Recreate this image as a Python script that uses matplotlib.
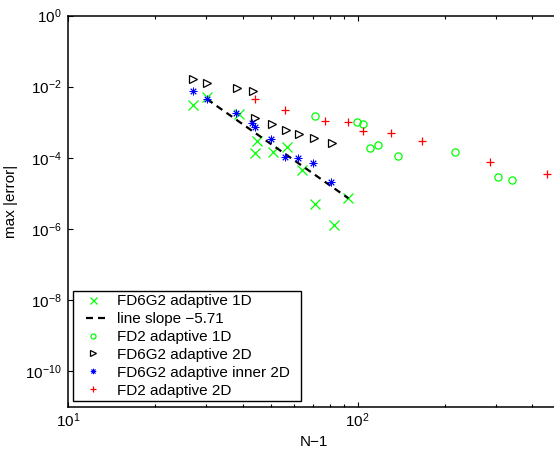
import matplotlib
matplotlib.use('Agg')
import matplotlib.pyplot as plt
from matplotlib.lines import Line2D
from matplotlib.ticker import LogLocator, NullLocator, FixedLocator

plt.rcParams['font.family'] = ['Liberation Sans', 'DejaVu Sans']
plt.rcParams['mathtext.fontset'] = 'custom'
plt.rcParams['mathtext.rm'] = 'Liberation Sans'
plt.rcParams['mathtext.it'] = 'Liberation Sans'
plt.rcParams['mathtext.default'] = 'regular'
plt.rcParams['lines.scale_dashes'] = False

# ---- data ----
fd6g2_1d_n = [27.0, 30.1, 38.8, 44.0, 44.7, 51.0, 57.1, 64.1, 71.3, 83.1, 92.9]
fd6g2_1d_err = [2.96e-3, 5.04e-3, 1.71e-3, 1.33e-4, 2.98e-4, 1.49e-4, 1.99e-4,
                4.57e-5, 4.97e-6, 1.30e-6, 7.33e-6]

line_n = [30.1, 92.9]
line_err = [4.5e-3, 7.3e-6]

fd2_1d_n = [71.3, 99.2, 104.0, 110.2, 117.2, 138.1, 216.4, 304.3, 340.2]
fd2_1d_err = [1.50e-3, 1.04e-3, 8.96e-4, 1.84e-4, 2.30e-4, 1.15e-4, 1.49e-4,
              2.87e-5, 2.44e-5]

fd6g2_2d_n = [26.9, 30.1, 38.2, 43.4, 44.2, 50.4, 56.3, 62.5, 70.4, 81.8]
fd6g2_2d_err = [1.64e-2, 1.27e-2, 9.2e-3, 7.57e-3, 1.32e-3, 9.14e-4, 6.08e-4,
                4.69e-4, 3.62e-4, 2.62e-4]

inner_2d_n = [27.0, 30.1, 37.9, 43.2, 44.0, 50.0, 55.9, 62.1, 70.0, 81.0]
inner_2d_err = [7.33e-3, 4.45e-3, 1.79e-3, 9.25e-4, 7.38e-4, 3.29e-4, 1.04e-4,
                9.93e-5, 7.05e-5, 2.14e-5]

fd2_2d_n = [44.0, 55.9, 77.2, 92.9, 104.0, 129.9, 166.8, 286.8, 452.0]
fd2_2d_err = [4.51e-3, 2.22e-3, 1.10e-3, 1.0e-3, 5.80e-4, 4.91e-4, 2.92e-4,
              7.77e-5, 3.48e-5]

labels = ['FD6G2 adaptive 1D', 'line slope \u22125.71', 'FD2 adaptive 1D',
          'FD6G2 adaptive 2D', 'FD6G2 adaptive inner 2D  ', 'FD2 adaptive 2D']
y_ticks = [1e0, 1e-2, 1e-4, 1e-6, 1e-8, 1e-10]

PX = 0.72  # points per pixel at dpi 100

# ---- figure ----
W, H = 554, 449
fig = plt.figure(figsize=(W / 100, H / 100), dpi=100)
ax_left, ax_right, ax_top, ax_bottom = 68.3, 560.0, 15.5, 407.0
ax = fig.add_axes([ax_left / W, 1 - ax_bottom / H,
                   (ax_right - ax_left) / W, (ax_bottom - ax_top) / H])

h0, = ax.plot(fd6g2_1d_n, fd6g2_1d_err, linestyle='none', marker='x', color='#00ff00',
              ms=7.2, mew=0.9)
ax.plot(line_n, line_err, color='black', lw=1.6,
        linestyle=(0, (7 * PX, 5 * PX)))
h2, = ax.plot(fd2_1d_n, fd2_1d_err, linestyle='none', marker='o', color='#00ff00',
              mfc='none', ms=5.2, mew=0.9)
h3, = ax.plot(fd6g2_2d_n, fd6g2_2d_err, linestyle='none', marker='>', color='black',
              mfc='none', ms=6.0, mew=0.9)
h4, = ax.plot(inner_2d_n, inner_2d_err, linestyle='none', marker=(8, 2, 0), color='blue',
              ms=5.5, mew=0.65)
h5, = ax.plot(fd2_2d_n, fd2_2d_err, linestyle='none', marker='+', color='red',
              ms=6.0, mew=0.9)

# legend proxy for the dashed line: two short dashes centred in the handle
h1 = Line2D([], [], color='black', lw=1.6,
            linestyle=(29 * PX, (7 * PX, 5 * PX, 7 * PX, 20 * PX)))

ax.set_xscale('log')
ax.set_yscale('log')
ax.set_xlim(10, 500)
ax.set_ylim(1e-11, 1)
ax.yaxis.set_major_locator(FixedLocator(y_ticks))
ax.yaxis.set_minor_locator(NullLocator())
ax.xaxis.set_major_locator(LogLocator(base=10))
ax.xaxis.set_minor_locator(LogLocator(base=10, subs=range(2, 10)))

for s in ax.spines.values():
    s.set_linewidth(1.1)
    s.set_color('black')
ax.tick_params(which='both', direction='in', top=True, right=True,
               labelsize=11, colors='black', width=0.8)
ax.tick_params(which='major', length=3.8, pad=4.5)
ax.tick_params(which='minor', length=2.0)
ax.tick_params(axis='x', which='major', pad=3.5)

ax.set_xlabel('N\u22121', fontsize=11)
ax.set_ylabel('max |error|', fontsize=11)
ax.xaxis.set_label_coords((314.0 - ax_left) / (ax_right - ax_left), -0.072)
ax.yaxis.set_label_coords(-0.102, (ax_bottom - 201) / (ax_bottom - ax_top))

fs = 11
fpx = fs / PX
leg = ax.legend(handles=[h0, h1, h2, h3, h4, h5], labels=labels,
                loc='lower left', bbox_to_anchor=(73 / W, 1 - 400.7 / H),
                bbox_transform=fig.transFigure, borderaxespad=0,
                fontsize=fs, frameon=True, fancybox=False, framealpha=1,
                edgecolor='black', numpoints=1, markerscale=0.7,
                handlelength=33.8 / fpx, handletextpad=7.1 / fpx,
                borderpad=3.1 / fpx, labelspacing=0.255,
                handleheight=0.7)
leg.get_frame().set_linewidth(1.0)

fig.savefig('out.png', dpi=100)
